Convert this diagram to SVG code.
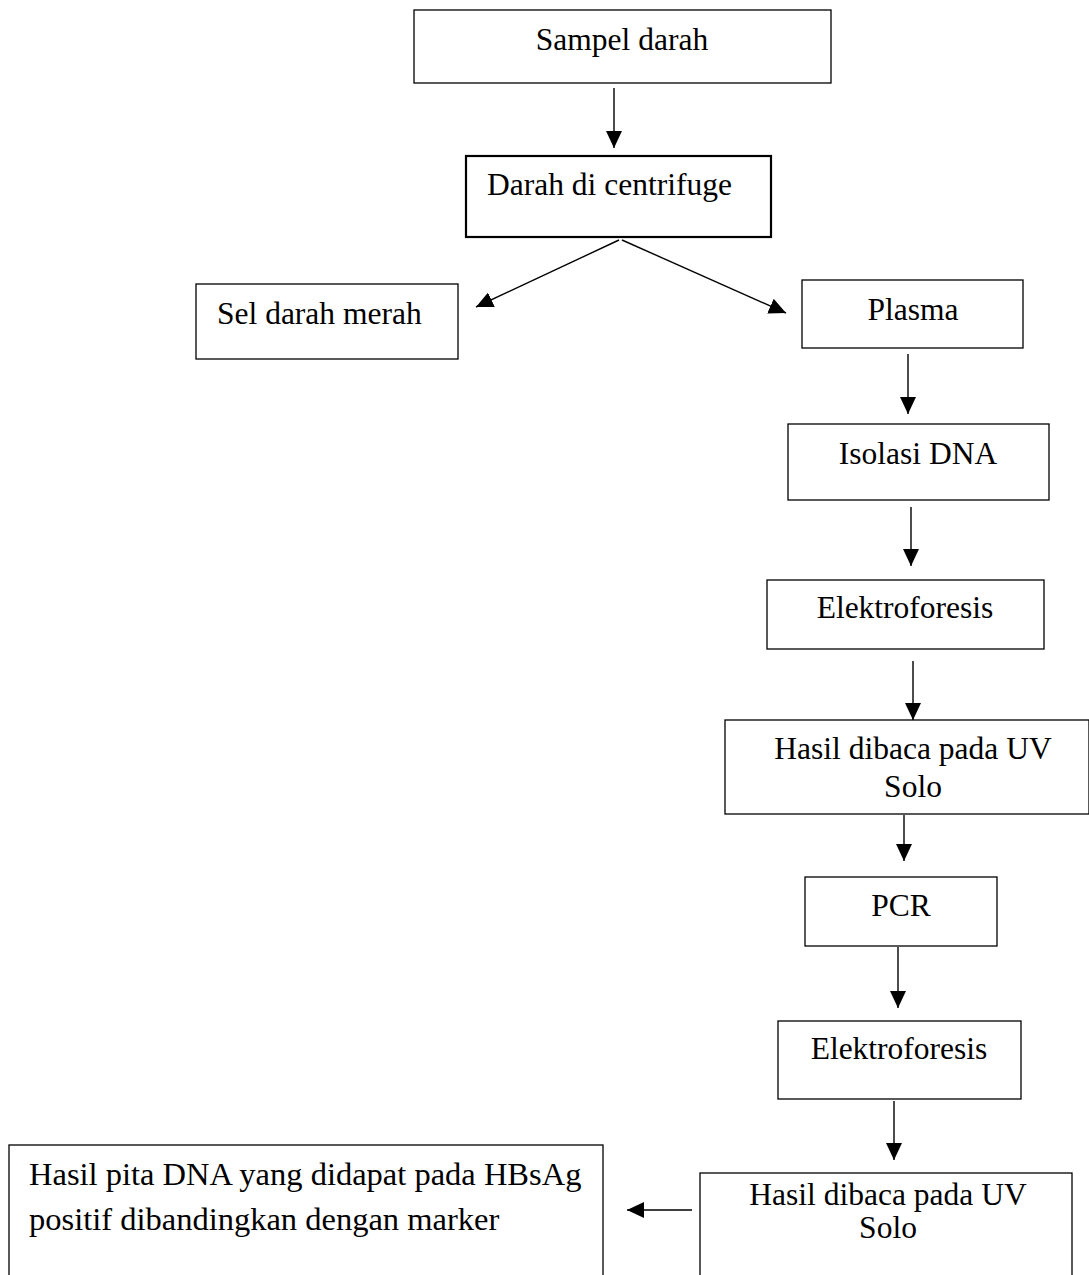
<svg xmlns="http://www.w3.org/2000/svg" width="1089" height="1275" viewBox="0 0 1089 1275">
<style>
.box{fill:#fff;stroke:#000;stroke-width:1.3}
.thick{stroke-width:2.2}
.t{font-family:"Liberation Serif","Times New Roman",serif;font-size:31.5px;fill:#000}
.big{font-size:32.5px}
.m{text-anchor:middle}
.c{stroke:#000;stroke-width:1.4;fill:none;marker-end:url(#ah)}
</style>
<defs>
<marker id="ah" markerUnits="userSpaceOnUse" markerWidth="18" markerHeight="16" refX="17" refY="8" orient="auto">
<path d="M0,0 L17,8 L0,16 z" fill="#000"/>
</marker>
</defs>
<g id="connectors">
<line class="c" x1="614" y1="88" x2="614" y2="148"/>
<line class="c" x1="619" y1="240" x2="476" y2="307"/>
<line class="c" x1="622" y1="240" x2="786" y2="313"/>
<line class="c" x1="908" y1="354" x2="908" y2="414"/>
<line class="c" x1="911" y1="507" x2="911" y2="566"/>
<line class="c" x1="913" y1="661" x2="913" y2="720"/>
<line class="c" x1="904" y1="815" x2="904" y2="861"/>
<line class="c" x1="898" y1="947" x2="898" y2="1008"/>
<line class="c" x1="894" y1="1101" x2="894" y2="1160"/>
<line class="c" x1="692" y1="1210" x2="627" y2="1210"/>
</g>
<g id="n1"><rect class="box" x="414" y="10" width="417" height="73"/><text class="t m" x="622" y="50">Sampel darah</text></g>
<g id="n2"><rect class="box thick" x="466" y="156" width="305" height="81"/><text class="t" x="487" y="195">Darah di centrifuge</text></g>
<g id="n3"><rect class="box" x="196" y="284" width="262" height="75"/><text class="t" x="217" y="324">Sel darah merah</text></g>
<g id="n4"><rect class="box" x="802" y="280" width="221" height="68"/><text class="t m" x="913" y="320">Plasma</text></g>
<g id="n5"><rect class="box" x="788" y="424" width="261" height="76"/><text class="t m" x="918" y="464">Isolasi DNA</text></g>
<g id="n6"><rect class="box" x="767" y="580" width="277" height="69"/><text class="t m" x="905" y="618">Elektroforesis</text></g>
<g id="n7"><rect class="box" x="725" y="720" width="364" height="94"/><text class="t m" x="913" y="759">Hasil dibaca pada UV</text><text class="t m" x="913" y="797">Solo</text></g>
<g id="n8"><rect class="box" x="805" y="877" width="192" height="69"/><text class="t m" x="901" y="916">PCR</text></g>
<g id="n9"><rect class="box" x="778" y="1021" width="243" height="78"/><text class="t m" x="899" y="1059">Elektroforesis</text></g>
<g id="n10"><rect class="box" x="700" y="1173" width="372" height="110"/><text class="t m" x="888" y="1205">Hasil dibaca pada UV</text><text class="t m" x="888" y="1238">Solo</text></g>
<g id="n11"><rect class="box" x="9" y="1145" width="594" height="140"/><text class="t big" x="29" y="1185">Hasil pita DNA yang didapat pada HBsAg</text><text class="t big" x="29" y="1230">positif dibandingkan dengan marker</text></g>
</svg>
